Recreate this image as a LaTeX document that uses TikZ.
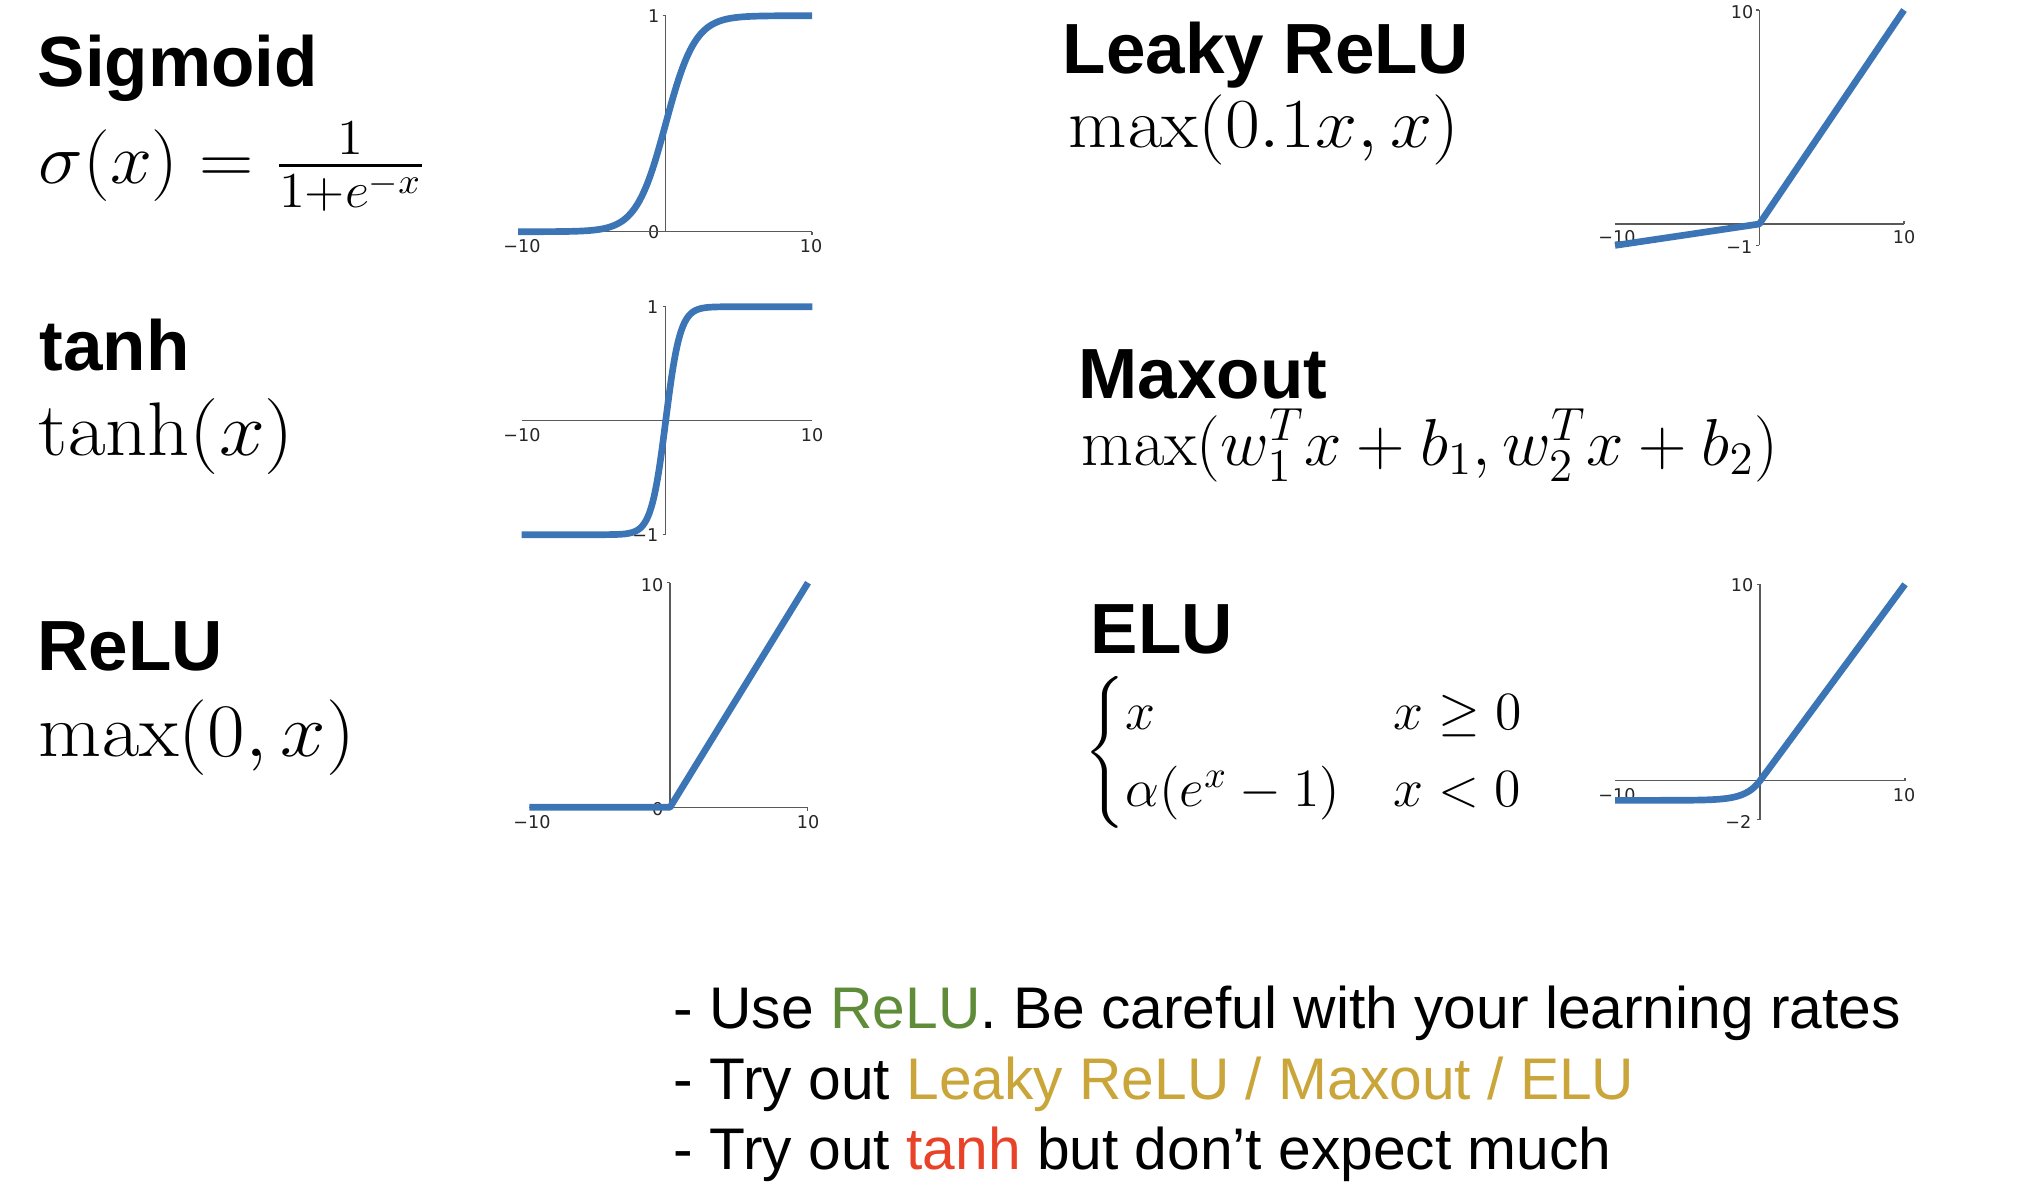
\documentclass[tikz,border=0pt]{standalone}
\usepackage{fix-cm}
\usepackage{amsmath}
\usepackage[no-math]{fontspec}
\newfontfamily\arialfont{Liberation Sans}
\newfontfamily\plotfont{DejaVu Sans}
\definecolor{cblue}{RGB}{60,117,181}
\definecolor{axgray}{RGB}{90,90,90}
\definecolor{relugreen}{RGB}{94,140,56}
\definecolor{tryyellow}{RGB}{201,165,58}
\definecolor{tanhred}{RGB}{232,67,40}
\tikzset{ttl/.append style={anchor=base west,inner sep=0pt,font=\arialfont\bfseries\fontsize{20.2}{24}\selectfont}}
\tikzset{fm/.append style={anchor=base west,inner sep=0pt}}
\tikzset{ax/.append style={draw=axgray,line width=0.35pt}}
\tikzset{cv/.append style={draw=cblue,line width=1.9pt,line join=round}}
\tikzset{lb/.append style={inner sep=0pt,text=black!85,font=\plotfont\fontsize{5}{6}\selectfont}}
\tikzset{note/.append style={anchor=base west,inner sep=0pt,font=\arialfont\fontsize{16.7}{20}\selectfont}}

\begin{document}
\begin{tikzpicture}[x=0.01cm,y=-0.01cm]
                \useasboundingbox (0,0) rectangle (2024,1202);
                % left column
                \node[ttl] (sig) at (37,86.5) {Sigmoid};
                \node[fm,font=\fontsize{20.4}{24}\selectfont] (sigf) at (38,183) {\scalebox{1.05}[1]{$\sigma(x)=\frac{1}{1+e^{-x}}$}};
                \node[ttl] (th) at (39,370) {tanh};
                \node[fm,font=\fontsize{21.6}{26}\selectfont] (thf) at (38,455.5) {\scalebox{1.085}[1]{$\tanh(x)$}};
                \node[ttl] (re) at (37,670) {ReLU};
                \node[fm,font=\fontsize{21.5}{26}\selectfont] (ref) at (38,756) {\scalebox{1.08}[1]{$\max(0,x)$}};
                % right column
                \node[ttl] (lk) at (1062,73) {Leaky ReLU};
                \node[fm,font=\fontsize{20}{24}\selectfont] (lkf) at (1068,147) {\scalebox{1.075}[1]{$\max(0.1x,x)$}};
                \node[ttl] (mo) at (1078,398.5) {Maxout};
                \node[fm,font=\fontsize{18.9}{23}\selectfont] (mof) at (1081,465) {\scalebox{1.01}[1]{$\max(w_1^Tx+b_1,w_2^Tx+b_2)$}};
                \node[ttl] (el) at (1090,653) {ELU};
                \node[inner sep=0pt,anchor=west,font=\fontsize{15.3}{18.4}\selectfont] (elf) at (1084,752.5) {$\begin{cases}x & x\geq 0\\ \alpha(e^x-1) & x<0\end{cases}$};

                % sigmoid plot
                \node[lb,anchor=east] (s1) at (660,16) {1};
                \node[lb,anchor=east] (s0) at (660,232) {0};
                \node[lb] (sl) at (522,246) {−10};
                \node[lb] (sr) at (811,246) {10};
                \draw[ax] (518,231.7) -- (812,231.7);
                \draw[ax] (665.7,15.7) -- (665.7,231.7);
                \draw[ax] (662.5,15.7) -- (665.7,15.7) (812,231.7) -- (812,235);
                \draw[cv] (518,231.7) -- plot[domain=-9:9,samples=121] ({665.7+14.7*\x},{231.7-216/(1+exp(-(\x)))}) -- (812,15.7);

                % tanh plot
                \node[lb,anchor=east] (t1) at (659,307) {1};
                \node[lb,anchor=east] (t0) at (659,535) {−1};
                \node[lb] (tl) at (522,435) {−10};
                \node[lb] (tr) at (812,435) {10};
                \draw[ax] (521.7,420.7) -- (812.3,420.7);
                \draw[ax] (665.7,306.7) -- (665.7,534.7);
                \draw[ax] (662.5,306.7) -- (665.7,306.7) (662.5,534.7) -- (665.7,534.7);
                \draw[cv] (521.7,534.7) -- plot[domain=-4.5:4.5,samples=121] ({665.7+14.53*\x},{420.7-114*(1-2/(1+exp(2*\x)))}) -- (812.3,306.7);

                % relu plot
                \node[lb,anchor=east] (r1) at (664,585) {10};
                \node[lb,anchor=east] (r0) at (664,809) {0};
                \node[lb] (rl) at (532,822) {−10};
                \node[lb] (rr) at (808,822) {10};
                \draw[ax] (529.3,807.3) -- (807.3,807.3);
                \draw[ax] (670,582.7) -- (670,807.3);
                \draw[ax] (666.8,582.7) -- (670,582.7) (807.3,807.3) -- (807.3,810.5);
                \draw[cv] (529.3,807.3) -- (670,807.3) -- (808,582.7);

                % leaky relu plot
                \node[lb,anchor=east] (k1) at (1754,12) {10};
                \node[lb,anchor=east] (k0) at (1753,247) {−1};
                \node[lb] (kl) at (1617,237) {−10};
                \node[lb] (kr) at (1904,237) {10};
                \draw[ax] (1615,224) -- (1904,224);
                \draw[ax] (1759.3,10) -- (1759.3,245.4);
                \draw[ax] (1756,10) -- (1759.3,10) (1756,245.4) -- (1759.3,245.4) (1904,224) -- (1904,221);
                \draw[cv] (1615,245.4) -- (1759.3,224) -- (1904,10);

                % elu plot
                \node[lb,anchor=east] (e1) at (1754,585) {10};
                \node[lb,anchor=east] (e0) at (1752,822) {−2};
                \node[lb] (eL) at (1617,795) {−10};
                \node[lb] (eR) at (1904,795) {10};
                \draw[ax] (1615,780.7) -- (1905,780.7);
                \draw[ax] (1760,584.3) -- (1760,819.6);
                \draw[ax] (1756.8,584.3) -- (1760,584.3) (1756.8,819.6) -- (1760,819.6) (1905,780.7) -- (1905,777.5);
                \draw[cv] plot[domain=-10:0,samples=81] ({1760+14.5*\x},{780.7-19.64*(exp(\x)-1)}) -- (1905,584.3);

                % advice
                \node[note] (n1) at (673,1028) {- Use \textcolor{relugreen}{ReLU}. Be careful with your learning rates};
                \node[note] (n2) at (673,1099) {- Try out \textcolor{tryyellow}{Leaky ReLU / Maxout / ELU}};
                \node[note] (n3) at (673,1169) {- Try out \textcolor{tanhred}{tanh} but don’t expect much};
            \end{tikzpicture}
\end{document}
